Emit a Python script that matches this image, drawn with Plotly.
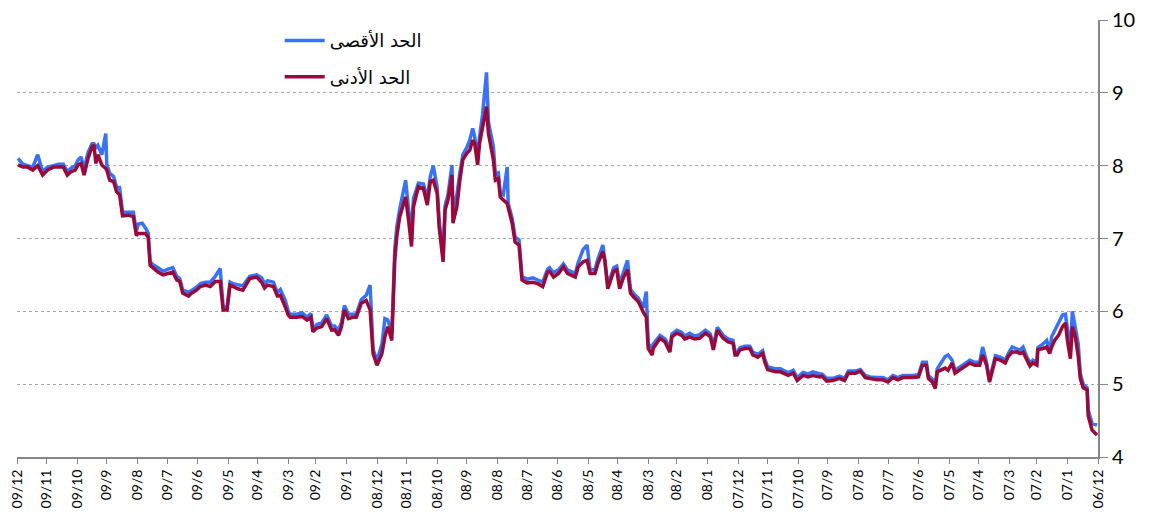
import plotly.graph_objects as go

dates = [
"2006-12-02","2006-12-07","2006-12-11","2006-12-12","2006-12-16","2006-12-19","2006-12-21","2006-12-24","2006-12-27","2006-12-29",
"2007-01-01","2007-01-03","2007-01-06","2007-01-10","2007-01-14","2007-01-17","2007-01-19","2007-01-22","2007-01-26","2007-01-31",
"2007-02-01","2007-02-05","2007-02-08","2007-02-11","2007-02-15","2007-02-18","2007-02-21","2007-02-26",
"2007-03-02","2007-03-05","2007-03-10","2007-03-15","2007-03-18","2007-03-21","2007-03-24","2007-03-28","2007-03-31",
"2007-04-05","2007-04-10","2007-04-15","2007-04-20","2007-04-25","2007-04-28",
"2007-05-02","2007-05-05","2007-05-10","2007-05-13","2007-05-15","2007-05-18","2007-05-22","2007-05-24","2007-05-28",
"2007-06-01","2007-06-07","2007-06-12","2007-06-17","2007-06-22","2007-06-27",
"2007-07-02","2007-07-07","2007-07-13","2007-07-20","2007-07-25","2007-07-30",
"2007-08-04","2007-08-11","2007-08-15","2007-08-20","2007-08-27",
"2007-09-02","2007-09-07","2007-09-09","2007-09-16","2007-09-21","2007-09-26",
"2007-10-02","2007-10-06","2007-10-11","2007-10-16","2007-10-19","2007-10-24",
"2007-11-01","2007-11-04","2007-11-06","2007-11-11","2007-11-16","2007-11-19","2007-11-24","2007-11-29",
"2007-12-02","2007-12-04","2007-12-06","2007-12-11","2007-12-16","2007-12-22","2007-12-26","2007-12-29",
"2008-01-03","2008-01-09","2008-01-14","2008-01-19","2008-01-24","2008-01-27",
"2008-02-01","2008-02-06","2008-02-08","2008-02-13","2008-02-18","2008-02-25","2008-02-26",
"2008-03-01","2008-03-03","2008-03-06","2008-03-11","2008-03-16","2008-03-19","2008-03-22","2008-03-26","2008-03-30",
"2008-04-02","2008-04-05","2008-04-11","2008-04-14","2008-04-16","2008-04-21","2008-04-24","2008-04-29",
"2008-05-02","2008-05-06","2008-05-11","2008-05-14","2008-05-19","2008-05-22","2008-05-26","2008-05-31",
"2008-06-05","2008-06-09","2008-06-11","2008-06-16","2008-06-21","2008-06-26",
"2008-07-02","2008-07-07","2008-07-10","2008-07-14","2008-07-17","2008-07-21","2008-07-22","2008-07-26","2008-07-29","2008-07-31",
"2008-08-03","2008-08-05","2008-08-10","2008-08-12","2008-08-16","2008-08-19","2008-08-21","2008-08-24","2008-08-26","2008-08-29",
"2008-09-01","2008-09-05","2008-09-08","2008-09-11","2008-09-15","2008-09-16","2008-09-20","2008-09-23","2008-09-25","2008-09-29",
"2008-10-01","2008-10-05","2008-10-08","2008-10-11","2008-10-15","2008-10-20","2008-10-25","2008-10-27","2008-10-30",
"2008-11-02","2008-11-08","2008-11-11","2008-11-13","2008-11-15","2008-11-16","2008-11-20","2008-11-23","2008-11-26",
"2008-12-01","2008-12-05","2008-12-08","2008-12-12","2008-12-17","2008-12-22","2008-12-25","2008-12-30",
"2009-01-03","2009-01-06","2009-01-09","2009-01-13","2009-01-16","2009-01-21","2009-01-26","2009-01-31",
"2009-02-04","2009-02-06","2009-02-10","2009-02-15","2009-02-20","2009-02-27",
"2009-03-01","2009-03-04","2009-03-09","2009-03-12","2009-03-16","2009-03-22","2009-03-25","2009-03-28",
"2009-04-02","2009-04-09","2009-04-16","2009-04-21","2009-04-26","2009-04-29",
"2009-05-02","2009-05-06","2009-05-09","2009-05-14","2009-05-19","2009-05-24","2009-05-29",
"2009-06-02","2009-06-07","2009-06-10","2009-06-16","2009-06-19","2009-06-22","2009-06-26",
"2009-07-01","2009-07-06","2009-07-11","2009-07-16","2009-07-19","2009-07-21","2009-07-24","2009-07-27","2009-07-31",
"2009-08-02","2009-08-05","2009-08-10","2009-08-16","2009-08-19","2009-08-22","2009-08-25","2009-08-29",
"2009-09-01","2009-09-02","2009-09-06","2009-09-10","2009-09-12","2009-09-14","2009-09-16","2009-09-20","2009-09-24","2009-09-27","2009-09-30",
"2009-10-03","2009-10-07","2009-10-11","2009-10-15","2009-10-20","2009-10-25","2009-10-31",
"2009-11-05","2009-11-10","2009-11-15","2009-11-20","2009-11-25","2009-11-30",
]

min_vals = [
4.30,4.37,4.57,4.92,4.95,5.08,5.38,5.65,5.79,5.35,
5.60,5.84,5.79,5.67,5.60,5.51,5.42,5.51,5.49,5.47,
5.26,5.29,5.25,5.33,5.44,5.42,5.44,5.44,
5.38,5.29,5.33,5.35,5.19,5.03,5.26,5.40,5.26,
5.26,5.29,5.24,5.19,5.15,5.29,
5.19,5.22,5.19,5.17,4.94,5.03,5.08,5.26,5.26,
5.10,5.09,5.09,5.09,5.06,5.09,
5.03,5.06,5.06,5.08,5.09,5.18,
5.15,5.15,5.05,5.08,5.05,
5.04,5.11,5.10,5.12,5.10,5.12,
5.05,5.15,5.12,5.15,5.17,5.17,
5.20,5.31,5.42,5.37,5.40,5.49,5.49,5.47,
5.40,5.40,5.56,5.58,5.63,5.74,5.47,5.65,
5.70,5.63,5.62,5.65,5.62,5.67,
5.70,5.65,5.44,5.58,5.63,5.49,5.40,
5.49,5.92,5.99,6.13,6.20,6.25,6.57,6.47,6.31,
6.57,6.55,6.31,6.70,6.82,6.66,6.52,6.52,
6.70,6.68,6.61,6.47,6.50,6.52,6.61,6.52,
6.47,6.55,6.54,6.34,6.38,6.40,
6.39,6.43,6.91,6.95,7.21,7.41,7.48,7.53,7.57,7.82,
7.80,8.08,8.44,8.81,8.49,8.31,8.01,8.31,8.35,8.21,
8.17,8.08,7.80,7.44,7.21,7.87,7.53,7.39,6.68,7.16,
7.62,7.80,7.78,7.46,7.69,7.71,7.44,6.89,7.25,
7.57,7.30,7.02,6.70,5.97,5.60,5.79,5.65,5.42,
5.26,5.42,6.02,6.15,6.11,5.92,5.92,5.90,
6.02,5.79,5.67,5.75,5.74,5.90,5.79,5.77,
5.72,5.92,5.88,5.93,5.92,5.92,
5.95,6.06,6.22,6.21,6.34,6.36,6.32,6.40,
6.47,6.45,6.29,6.31,6.34,6.36,
6.02,6.02,6.41,6.41,6.34,6.36,6.34,
6.29,6.25,6.21,6.25,6.41,6.43,6.54,
6.52,6.50,6.54,6.59,6.63,7.02,7.07,7.07,7.07,
7.04,7.30,7.32,7.31,7.60,7.64,7.78,7.80,
7.94,7.96,8.01,8.15,8.03,8.28,8.26,8.10,7.87,8.03,8.01,
7.94,7.92,7.87,7.98,7.98,7.98,7.94,
7.87,8.00,7.94,7.98,7.98,8.01,
]

max_vals = [
4.44,4.46,4.65,4.95,5.00,5.15,5.55,5.80,6.00,5.45,
5.75,5.96,5.95,5.84,5.72,5.65,5.45,5.60,5.55,5.50,
5.30,5.33,5.29,5.37,5.51,5.47,5.48,5.51,
5.42,5.33,5.37,5.39,5.23,5.06,5.30,5.51,5.30,
5.30,5.33,5.28,5.23,5.19,5.33,
5.40,5.38,5.28,5.21,4.98,5.07,5.12,5.30,5.30,
5.13,5.12,5.12,5.12,5.09,5.12,
5.06,5.09,5.09,5.10,5.12,5.20,
5.18,5.18,5.08,5.11,5.08,
5.08,5.14,5.14,5.17,5.14,5.16,
5.09,5.19,5.16,5.19,5.21,5.21,
5.24,5.35,5.46,5.41,5.44,5.52,5.52,5.50,
5.44,5.44,5.60,5.62,5.67,5.78,5.52,5.69,
5.74,5.68,5.66,5.70,5.66,5.71,
5.74,5.69,5.50,5.62,5.67,5.55,5.50,
5.55,6.27,6.05,6.18,6.25,6.30,6.70,6.55,6.38,
6.62,6.60,6.36,6.75,6.91,6.72,6.57,6.57,
6.91,6.85,6.67,6.52,6.55,6.57,6.65,6.57,
6.53,6.60,6.58,6.40,6.43,6.46,
6.44,6.48,6.98,7.02,7.28,7.48,7.98,7.60,7.62,7.90,
7.88,8.26,8.60,9.28,8.70,8.40,8.10,8.40,8.51,8.35,
8.25,8.15,7.90,7.60,7.40,8.01,7.60,7.45,6.75,7.25,
7.70,8.00,7.85,7.55,7.75,7.76,7.55,7.10,7.40,
7.80,7.40,7.15,6.85,6.05,5.70,5.88,5.90,5.55,
5.32,5.48,6.36,6.22,6.16,5.96,5.96,5.96,
6.08,5.85,5.74,5.80,5.80,5.95,5.84,5.82,
5.76,5.97,5.92,5.98,5.96,5.96,
6.00,6.15,6.30,6.26,6.40,6.42,6.38,6.46,
6.50,6.48,6.35,6.36,6.38,6.40,
6.06,6.06,6.59,6.48,6.40,6.40,6.38,
6.33,6.29,6.26,6.29,6.45,6.48,6.60,
6.58,6.55,6.60,6.64,6.68,7.08,7.15,7.21,7.20,
7.10,7.36,7.36,7.36,7.70,7.70,7.85,7.90,
8.02,8.44,8.15,8.28,8.25,8.30,8.30,8.18,7.95,8.12,8.08,
8.00,7.97,7.92,8.02,8.02,8.00,7.98,
7.92,8.15,7.98,8.00,8.02,8.10,
]

tick_dates = [f"{y}-{m:02d}-01" for y, m in
              [(2006, 12)] + [(y, m) for y in (2007, 2008, 2009) for m in range(1, 13)]]
tick_labels = ["06/12"] + [f"{str(y)[2:]}/{m}" for y in (2007, 2008, 2009) for m in range(1, 13)]

series_names = ["الحد الأقصى", "الحد الأدنى"]
series_colors = ["#3A72F6", "#990A3B"]

fig = go.Figure()
fig.add_trace(go.Scatter(x=dates, y=max_vals, mode="lines", name=series_names[0],
                         line=dict(color=series_colors[0], width=3.5), legendgroup="a"))
fig.add_trace(go.Scatter(x=dates, y=min_vals, mode="lines", name=series_names[1],
                         line=dict(color=series_colors[1], width=3.5), legendgroup="b"))

fig.update_layout(
    width=1158, height=516,
    margin=dict(l=9, r=68, t=12, b=67),
    plot_bgcolor="white", paper_bgcolor="white",
    showlegend=True,
    legend=dict(x=0.243, y=0.995, xanchor="left", yanchor="top",
                font=dict(family="DejaVu Sans", size=18, color="black"),
                tracegroupgap=10, bgcolor="rgba(0,0,0,0)", itemwidth=40),
    xaxis=dict(
        type="date", range=["2009-12-01", "2006-12-01"], autorange=False,
        tickmode="array", tickvals=tick_dates, ticktext=tick_labels,
        tickangle=-90, tickfont=dict(family="Lato", size=14, color="black"),
        ticks="outside", ticklen=5, tickcolor="#868686",
        showline=True, linecolor="#868686", linewidth=2,
        showgrid=False, zeroline=False, automargin=False,
        ticklabeloverflow="allow",
    ),
    yaxis=dict(
        side="right", range=[4, 10], dtick=1, autorange=False,
        tickfont=dict(family="Lato", size=20, color="black"),
        ticks="outside", ticklen=8, tickcolor="#868686",
        showline=True, linecolor="#868686", linewidth=2,
        showgrid=True, gridcolor="#A6A6A6", griddash="dot", gridwidth=1,
        zeroline=False, automargin=False, ticklabeloverflow="allow",
    ),
)

fig.write_html("out.html")
